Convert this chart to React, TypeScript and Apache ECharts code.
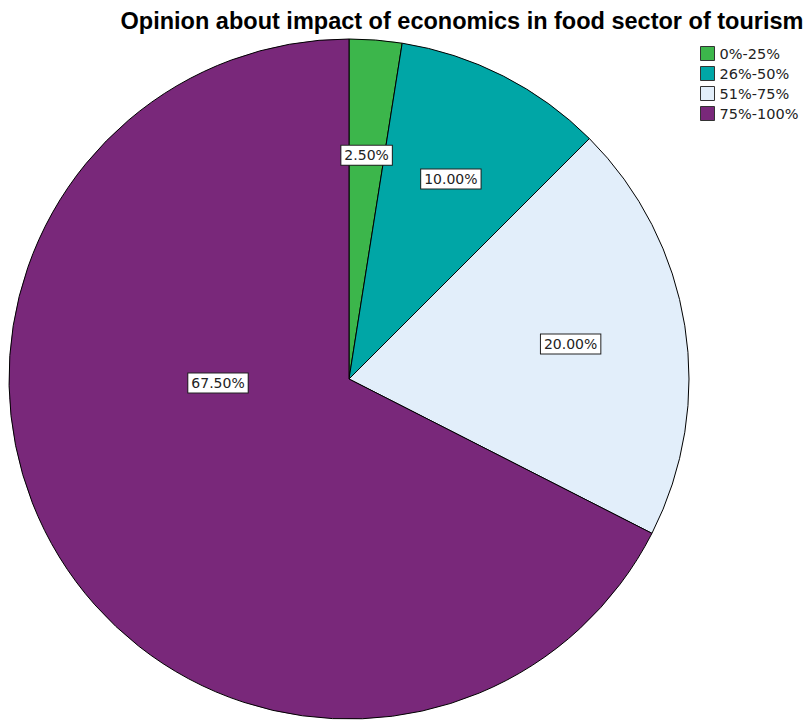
import React, { useEffect, useRef } from "react";
import * as echarts from "echarts";

const categories = ["0%-25%", "26%-50%", "51%-75%", "75%-100%"];
const percentages = [2.5, 10.0, 20.0, 67.5];
const colors = ["#3cb64b", "#00a6a6", "#e2eefa", "#79287a"];
const titleText = "Opinion about impact of economics in food sector of tourism";

const CX = 349;
const CY = 379;
const R = 340;

export default function App() {
  const ref = useRef<HTMLDivElement>(null);
  useEffect(() => {
    document.body.style.margin = "0";
    const chart = echarts.init(ref.current!, null, { renderer: "svg" });
    const total = percentages.reduce((a, b) => a + b, 0);
    const cum: number[] = [];
    let acc = 0;
    percentages.forEach((v) => {
      cum.push(acc + v / 2);
      acc += v;
    });
    chart.setOption({
      animation: false,
      backgroundColor: "#ffffff",
      title: {
        text: titleText,
        left: 457,
        textAlign: "center",
        top: 4,
        textStyle: { fontFamily: "Liberation Sans, Arial, sans-serif", fontSize: 23.5, fontWeight: "bold", color: "#000" },
      },
      legend: {
        orient: "vertical",
        left: 695,
        top: 41,
        itemWidth: 14,
        itemHeight: 14,
        itemGap: 5,
        icon: "rect",
        data: categories,
        itemStyle: { borderColor: "#333", borderWidth: 1 },
        textStyle: { fontFamily: "DejaVu Sans, sans-serif", fontSize: 14.5, lineHeight: 14, color: "#222" },
      },
      series: [
        {
          type: "pie",
          center: [CX, CY],
          radius: R,
          startAngle: 90,
          clockwise: true,
          avoidLabelOverlap: false,
          itemStyle: { borderColor: "#000", borderWidth: 1 },
          emphasis: { disabled: true },
          label: {
            show: true,
            position: "inside",
            formatter: (p: any) => p.value.toFixed(2) + "%",
            fontFamily: "DejaVu Sans, sans-serif",
            fontSize: 14,
            color: "#222",
            backgroundColor: "#fff",
            borderColor: "#222",
            borderWidth: 1,
            padding: [3, 3, 2, 3],
          },
          labelLayout: (params: any) => {
            const i = params.dataIndex;
            if (i === percentages.length - 1) {
              return { x: CX - 131, y: CY + 4 };
            }
            const ang = (cum[i] / total) * Math.PI * 2;
            const rr = R * 0.66;
            return { x: CX + rr * Math.sin(ang), y: CY - rr * Math.cos(ang) };
          },
          data: categories.map((c, i) => ({ name: c, value: percentages[i], itemStyle: { color: colors[i] } })),
        },
      ],
    });
    return () => chart.dispose();
  }, []);
  return <div ref={ref} style={{ width: 805, height: 720, position: "absolute", left: 0, top: 0 }} />;
}
